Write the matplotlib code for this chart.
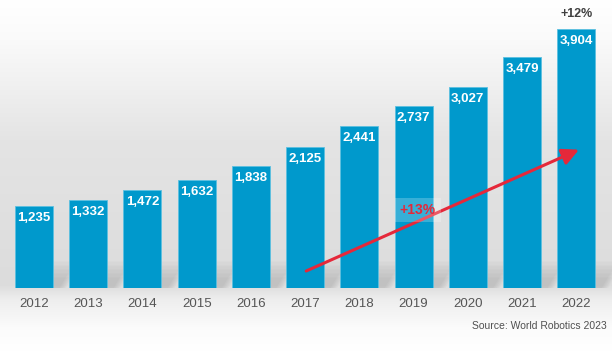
import numpy as np
import matplotlib.pyplot as plt
from matplotlib.patches import Polygon

# Data
years = ["2012", "2013", "2014", "2015", "2016", "2017",
         "2018", "2019", "2020", "2021", "2022"]
installs = [1235, 1332, 1472, 1632, 1838, 2125, 2441, 2737, 3027, 3479, 3904]
value_labels = ["1,235", "1,332", "1,472", "1,632", "1,838", "2,125",
                "2,441", "2,737", "3,027", "3,479", "3,904"]
growth_last = "+12%"
cagr_label = "+13%"
source = "Source: World Robotics 2023"

bar_color = "#0099cc"
font = "Liberation Sans"

fig = plt.figure(figsize=(6.12, 3.51), dpi=100)

# background gradient: white -> light gray -> white
bg = fig.add_axes([0, 0, 1, 1], zorder=0)
bg.axis("off")
yy = np.linspace(0, 351, 352)
shade = np.interp(yy, [0, 40, 140, 285, 300, 330, 351],
                  [255, 250, 228, 220, 238, 252, 255])
grad = np.repeat(shade[:, None], 2, axis=1) / 255.0
bg.imshow(np.dstack([grad, grad, grad]), aspect="auto",
          extent=[0, 1, 1, 0], interpolation="bilinear")
bg.set_xlim(0, 1)
bg.set_ylim(1, 0)

# main axes, mapped so bar bottoms sit at y=288 px
ax = fig.add_axes([0, 63 / 351, 1, 288 / 351], zorder=1)
ax.patch.set_alpha(0)
x = np.arange(len(years))
ax.set_xlim(-0.627, 10.66)
ax.set_ylim(0, 4341)
ax.axis("off")

# soft shadows to the right of each bar
w = 0.70
for i, v in enumerate(installs):
    for k in range(5):
        h = 400 - k * 60
        poly = Polygon([[i, 0], [i + w / 2 + 0.12 + k * 0.03, 0],
                        [i + w / 2 + 0.42 - k * 0.02, h], [i + 0.3, h]],
                       closed=True, facecolor="#606060", alpha=0.045,
                       edgecolor="none", zorder=1)
        ax.add_patch(poly)

ax.bar(x, installs, width=w, color=bar_color, edgecolor="#5cc0e0",
       linewidth=0.6, zorder=3)

for i, (v, lab) in enumerate(zip(installs, value_labels)):
    ax.text(i, v - 180, lab, ha="center", va="center", color="white",
            fontsize=9.5, fontweight="bold", family=font, zorder=5)
    ax.text(i, -240, years[i], ha="center", va="center", color="#555555",
            fontsize=9.5, family=font, zorder=5)

ax.text(10, 4130, growth_last, ha="center", va="center", color="#404040",
        fontsize=9, fontweight="bold", family=font, zorder=5)

# CAGR arrow
ax.annotate("", xy=(10.05, 2085), xytext=(5.02, 256),
            arrowprops=dict(arrowstyle="-|>,head_length=1.0,head_width=0.5",
                            color="#e5283a", lw=2.2, shrinkA=0, shrinkB=0),
            zorder=6)
ax.text(7.08, 1180, cagr_label, ha="center", va="center", color="#e5283a",
        fontsize=10, fontweight="bold", family=font, zorder=7,
        bbox=dict(boxstyle="square,pad=0.35", facecolor="white", alpha=0.22,
                  edgecolor="none"))

fig.text(607 / 612, 1 - 326 / 351, source, ha="right", va="center",
         color="#505050", fontsize=7.5, family=font)

fig.savefig("out.png", dpi=100)
